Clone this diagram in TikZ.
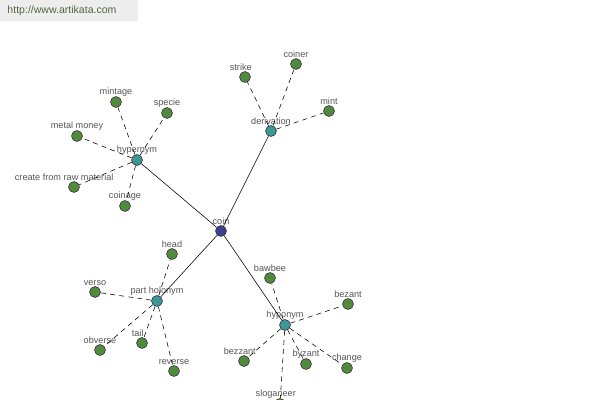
\documentclass[tikz,border=0pt]{standalone}
\usepackage{fontspec}
\setmainfont{Liberation Sans}
\definecolor{leafgreen}{HTML}{4F8A3F}
\definecolor{relteal}{HTML}{3E9695}
\definecolor{rootblue}{HTML}{3C3F8F}
\definecolor{textgray}{HTML}{555555}
\definecolor{wmgreen}{HTML}{56663F}

\begin{document}
\begin{tikzpicture}[x = 0.025cm, y = -0.025cm,
        leaf/.style = {circle, draw = black!80, fill = leafgreen, minimum size = 7.8pt, inner sep = 0pt},
        rel/.style = {leaf, fill = relteal},
        root/.style = {leaf, fill = rootblue},
        every label/.style = {font = \fontsize{6.5}{7}\selectfont, text = textgray, inner sep = 0pt},
        label distance = 0pt,
        link/.style = {dash pattern = on 3.5pt off 3pt, line width = 0.4pt}]
            \useasboundingbox (0,0) rectangle (600,400);
            \clip (0,0) rectangle (600,400);

            % watermark
            \fill[black!7] (0,0) rectangle (138,21);
            \node[font = \fontsize{7.5}{8}\selectfont, text = wmgreen, inner sep = 0pt] (url) at (62,11) {http://www.artikata.com};

            \node[root, label = above:coin] (coin) at (221,231) {};

            \node[rel, label = above:hypernym] (hyper) at (137,160) {};
            \node[rel, label = above:derivation] (deriv) at (271,131) {};
            \node[rel, label = above:part holonym] (holo) at (157,301) {};
            \node[rel, label = above:hyponym] (hypo) at (285,325) {};

            \node[leaf, label = above:mintage] (mintage) at (116,102) {};
            \node[leaf, label = above:specie] (specie) at (167,113) {};
            \node[leaf, label = above:metal money] (metal) at (77,136) {};
            \node[leaf, label = {[xshift = -7pt]above:create from raw material}] (raw) at (74,187) {};
            \node[leaf, label = above:coinage] (coinage) at (125,206) {};

            \node[leaf, label = {[xshift = -3pt]above:strike}] (strike) at (245,77) {};
            \node[leaf, label = above:coiner] (coiner) at (296,64) {};
            \node[leaf, label = above:mint] (mint) at (329,111) {};

            \node[leaf, label = above:head] (head) at (172,254) {};
            \node[leaf, label = above:verso] (verso) at (95,292) {};
            \node[leaf, label = above:obverse] (obverse) at (100,350) {};
            \node[leaf, label = {[xshift = -3pt]above:tail}] (tail) at (142,343) {};
            \node[leaf, label = above:reverse] (reverse) at (174,371) {};

            \node[leaf, label = above:bawbee] (bawbee) at (270,278) {};
            \node[leaf, label = above:bezant] (bezant) at (348,304) {};
            \node[leaf, label = {[xshift = -3pt]above:bezzant}] (bezzant) at (244,361) {};
            \node[leaf, label = above:byzant] (byzant) at (306,364) {};
            \node[leaf, label = above:change] (change) at (347,368) {};
            \node[leaf, label = {[xshift = -3pt]above:sloganeer}] (slogan) at (280,404) {};

            \foreach \r in {hyper, deriv, holo, hypo}
                \draw[line width = 0.4pt] (coin) -- (\r);

            \foreach \n in {mintage, specie, metal, raw, coinage}
                \draw[link] (hyper) -- (\n);
            \foreach \n in {strike, coiner, mint}
                \draw[link] (deriv) -- (\n);
            \foreach \n in {head, verso, obverse, tail, reverse}
                \draw[link] (holo) -- (\n);
            \foreach \n in {bawbee, bezant, bezzant, byzant, change, slogan}
                \draw[link] (hypo) -- (\n);
        \end{tikzpicture}
\end{document}
